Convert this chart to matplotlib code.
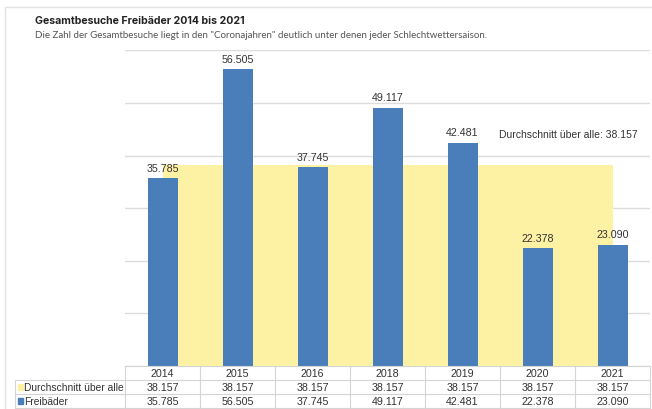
import matplotlib.pyplot as plt
from matplotlib.patches import Rectangle
import numpy as np

# Data
years = ["2014", "2015", "2016", "2018", "2019", "2020", "2021"]
visits = [35785, 56505, 37745, 49117, 42481, 22378, 23090]
average = [38157] * len(years)
series_names = ["Durchschnitt über alle", "Freibäder"]

BLUE = "#4a7ebb"
YELLOW = "#fdf2a4"
GRID = "#dcdcdc"
TEXT = "#333333"


def fmt(v):
    # German thousands separator
    return f"{v:,}".replace(",", ".")


plt.rcParams["font.family"] = ["Liberation Sans", "DejaVu Sans"]

fig = plt.figure(figsize=(6.52, 4.10), dpi=100)
W, H = 652, 410

# card border
fig.patches.append(Rectangle((5 / W, -0.1), 1.2, (H - 8) / H + 0.1,
                             transform=fig.transFigure, fill=False,
                             edgecolor="#e2e2e2", linewidth=1.0))

fig.text(35 / W, 1 - 21 / H, "Gesamtbesuche Freibäder 2014 bis 2021",
         fontsize=7.6, fontweight="bold", family=["Inter", "DejaVu Sans"],
         color="#222222", va="center")
fig.text(35 / W, 1 - 35 / H,
         'Die Zahl der Gesamtbesuche liegt in den "Coronajahren" deutlich unter denen jeder Schlechtwettersaison.',
         fontsize=7, family=["Lato", "DejaVu Sans"], color="#555555", va="center")

left, right = 125 / W, 650 / W
base_y = (H - 367) / H
ax = fig.add_axes([left, base_y, right - left, 1 - 51.4 / H - base_y])

x = np.arange(len(years))
ax.fill_between(x, 0, average, color=YELLOW, zorder=1, linewidth=0)
ax.bar(x, visits, width=0.4, color=BLUE, zorder=2)
for xi, v in zip(x, visits):
    ax.text(xi, v + 1000, fmt(v), ha="center", va="bottom", fontsize=7.7, color=TEXT)

ax.text(6.33, average[0] + 5000, f"Durchschnitt über alle: {fmt(average[0])}",
        ha="right", va="bottom", fontsize=7.5, color=TEXT)

ax.set_xlim(-0.5, len(years) - 0.5)
ax.set_ylim(0, 60000)
ax.set_yticks(np.arange(0, 60001, 10000))
ax.yaxis.grid(True, color=GRID, linewidth=1.0, zorder=0)
ax.set_axisbelow(True)
ax.tick_params(left=False, bottom=False, labelleft=False, labelbottom=False)
for s in ax.spines.values():
    s.set_visible(False)

# data table below the chart
row_h = 14 / H
tax = fig.add_axes([left, base_y - 3 * row_h, right - left, 3 * row_h])
tax.set_xlim(-0.5, len(years) - 0.5)
tax.set_ylim(3, 0)
tax.axis("off")
label_left = -0.5 - (125 - 15) / 75

line_kw = dict(color="#d4d4d4", linewidth=0.8, clip_on=False)
tax.plot([-0.5, len(years) - 0.5], [0, 0], **line_kw)
for r in (1, 2, 3):
    tax.plot([label_left, len(years) - 0.5], [r, r], **line_kw)
for b in np.arange(-0.5, len(years), 1.0):
    tax.plot([b, b], [0, 3], **line_kw)
tax.plot([label_left, label_left], [1, 3], **line_kw)

fs = 7.7
for xi, y in zip(x, years):
    tax.text(xi, 0.5, y, ha="center", va="center", fontsize=fs, color=TEXT)
for r, (name, vals, col) in enumerate(zip(series_names, [average, visits], [YELLOW, BLUE]), start=1):
    tax.add_patch(Rectangle((label_left + 0.04, r + 0.3), 0.065, 0.4, color=col, clip_on=False))
    tax.text(label_left + 0.12, r + 0.5, name, ha="left", va="center", fontsize=7.4, color=TEXT,
             clip_on=False)
    for xi, v in zip(x, vals):
        tax.text(xi, r + 0.5, fmt(v), ha="center", va="center", fontsize=fs, color=TEXT)

fig.savefig("out.png", dpi=100)
